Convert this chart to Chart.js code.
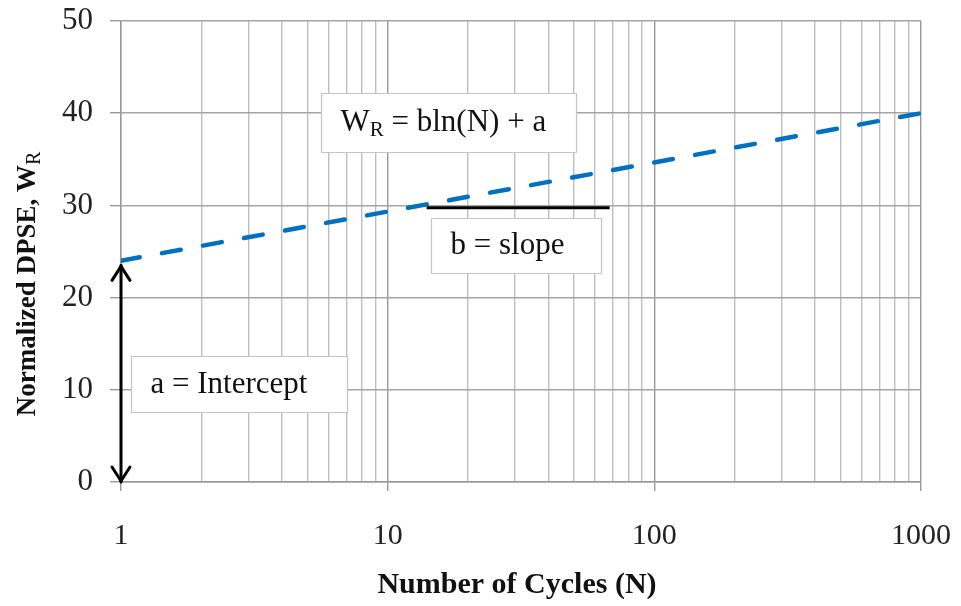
<!DOCTYPE html>
<html><head><meta charset="utf-8">
<script src="https://cdn.jsdelivr.net/npm/chart.js@4/dist/chart.umd.min.js"></script>
<style>html,body{margin:0;padding:0;background:#fff}#wrap{width:961px;height:606px}</style>
</head><body><div id="wrap"><canvas id="c" width="961" height="606"></canvas></div>
<script>
// ---- data ----
const cycles = [1, 1000];
const wr = [24, 40];
const xTickLabels = [1, 10, 100, 1000];
const yMin = 0, yMax = 50, yStep = 10;
const slopeX = [14, 68];
const slopeY = 29.75;
const interceptX = 1;
const interceptY = [0, 23.5];
const xTitle = 'Number of Cycles (N)';
const yTitle = 'Normalized DPSE, W';
const yTitleSub = 'R';
// text boxes: [x1, x2] in N, [y1, y2] in W_R, parts of text
const boxes = [
  {x: [5.6, 51], y: [42.2, 35.8], parts: [['W', false], ['R', true], [' = bln(N) + a', false]]},
  {x: [14.5, 63.3], y: [28.63, 22.67], parts: [['b = slope', false]]},
  {x: [1.09, 7.02], y: [13.67, 7.59], parts: [['a = Intercept', false]]}
];

const SERIF = '"Liberation Serif","Times New Roman",serif';

const isMajor = v => Math.abs(Math.log10(v) - Math.round(Math.log10(v))) < 1e-9;

function drawParts(ctx, parts, x, y, size) {
  ctx.textBaseline = 'middle';
  ctx.textAlign = 'left';
  let cx = x;
  for (const [t, sub] of parts) {
    ctx.font = (sub ? Math.round(size * 0.68) : size) + 'px ' + SERIF;
    ctx.fillText(t, cx, sub ? y + size * 0.25 : y);
    cx += ctx.measureText(t).width;
  }
}

const annPlugin = {
  id: 'ann',
  afterDatasetsDraw(chart) {
    const {ctx, scales: {x, y}} = chart;
    ctx.save();
    // slope line
    ctx.strokeStyle = '#000';
    ctx.lineWidth = 3;
    ctx.beginPath();
    ctx.moveTo(x.getPixelForValue(slopeX[0]), y.getPixelForValue(slopeY));
    ctx.lineTo(x.getPixelForValue(slopeX[1]), y.getPixelForValue(slopeY));
    ctx.stroke();
    // intercept arrow
    const ax = x.getPixelForValue(interceptX);
    const a0 = y.getPixelForValue(interceptY[0]);
    const a1 = y.getPixelForValue(interceptY[1]);
    ctx.lineWidth = 3;
    ctx.lineCap = 'round';
    ctx.lineJoin = 'round';
    ctx.beginPath();
    ctx.moveTo(ax, a0); ctx.lineTo(ax, a1); ctx.stroke();
    ctx.beginPath();
    ctx.moveTo(ax - 9, a1 + 15); ctx.lineTo(ax, a1 + 1); ctx.lineTo(ax + 9, a1 + 15);
    ctx.moveTo(ax - 9, a0 - 15); ctx.lineTo(ax, a0 - 1); ctx.lineTo(ax + 9, a0 - 15);
    ctx.stroke();
    // boxes
    ctx.lineCap = 'butt';
    for (const b of boxes) {
      const l = Math.round(x.getPixelForValue(b.x[0])) + 0.5;
      const r = Math.round(x.getPixelForValue(b.x[1])) + 0.5;
      const t = Math.round(y.getPixelForValue(b.y[0])) + 0.5;
      const bt = Math.round(y.getPixelForValue(b.y[1])) + 0.5;
      ctx.fillStyle = '#fff';
      ctx.fillRect(l, t, r - l, bt - t);
      ctx.strokeStyle = '#c4c4c4';
      ctx.lineWidth = 1.2;
      ctx.strokeRect(l, t, r - l, bt - t);
      ctx.fillStyle = '#111';
      drawParts(ctx, b.parts, l + 19, (t + bt) / 2, 31);
    }
    ctx.restore();
  },
  afterDraw(chart) {
    const {ctx} = chart;
    ctx.save();
    ctx.fillStyle = '#111';
    ctx.font = 'bold 30px ' + SERIF;
    ctx.textAlign = 'center';
    ctx.textBaseline = 'middle';
    ctx.fillText(xTitle, 517, 585);
    // y title rotated with subscript
    ctx.translate(28, 284);
    ctx.rotate(-Math.PI / 2);
    ctx.font = 'bold 27px ' + SERIF;
    const w1 = ctx.measureText(yTitle).width;
    ctx.font = '20px ' + SERIF;
    const w2 = ctx.measureText(yTitleSub).width;
    let sx = -(w1 + w2) / 2;
    ctx.textAlign = 'left';
    ctx.font = 'bold 27px ' + SERIF;
    ctx.fillText(yTitle, sx, 0);
    ctx.font = '20px ' + SERIF;
    ctx.fillText(yTitleSub, sx + w1, 7);
    ctx.restore();
  }
};

new Chart(document.getElementById('c'), {
  type: 'line',
  data: {
    datasets: [{
      data: cycles.map((c, i) => ({x: c, y: wr[i]})),
      borderColor: '#0070C0',
      borderWidth: 4.5,
      borderDash: [19, 22.7],
      borderCapStyle: 'round',
      pointRadius: 0,
      fill: false,
      tension: 0
    }]
  },
  options: {
    responsive: false,
    animation: false,
    devicePixelRatio: 1,
    layout: {padding: {left: 0, right: 40, top: 21, bottom: 0}},
    plugins: {legend: {display: false}, tooltip: {enabled: false}, title: {display: false}},
    scales: {
      x: {
        type: 'logarithmic',
        min: 1, max: 1000,
        afterFit(s) { s.height = 124; s.paddingLeft = 0; s.paddingRight = 0; },
        afterBuildTicks(s) {
          const t = [];
          for (let d = 1; d < 1000; d *= 10) for (let k = 1; k < 10; k++) t.push({value: d * k});
          t.push({value: 1000});
          s.ticks = t;
        },
        ticks: {
          autoSkip: false, maxRotation: 0, padding: 27,
          color: '#222',
          font: {family: SERIF, size: 30},
          callback: v => (xTickLabels.includes(v) ? String(v) : '')
        },
        grid: {
          color: c => (c.tick && isMajor(c.tick.value) ? '#999999' : '#bdbdbd'),
          lineWidth: 1.4,
          tickLength: 9,
          tickColor: c => (c.tick && isMajor(c.tick.value) ? '#999999' : 'rgba(0,0,0,0)')
        },
        border: {color: '#999999', width: 1.4}
      },
      y: {
        min: yMin, max: yMax,
        afterFit(s) { s.width = 121; s.paddingTop = 0; s.paddingBottom = 0; },
        ticks: {
          stepSize: yStep, padding: 17,
          color: '#222',
          font: {family: SERIF, size: 31}
        },
        grid: {color: '#a4a4a4', lineWidth: 1.4, tickLength: 11, tickColor: '#999999'},
        border: {color: '#999999', width: 1.4}
      }
    }
  },
  plugins: [annPlugin]
});
</script></body></html>
